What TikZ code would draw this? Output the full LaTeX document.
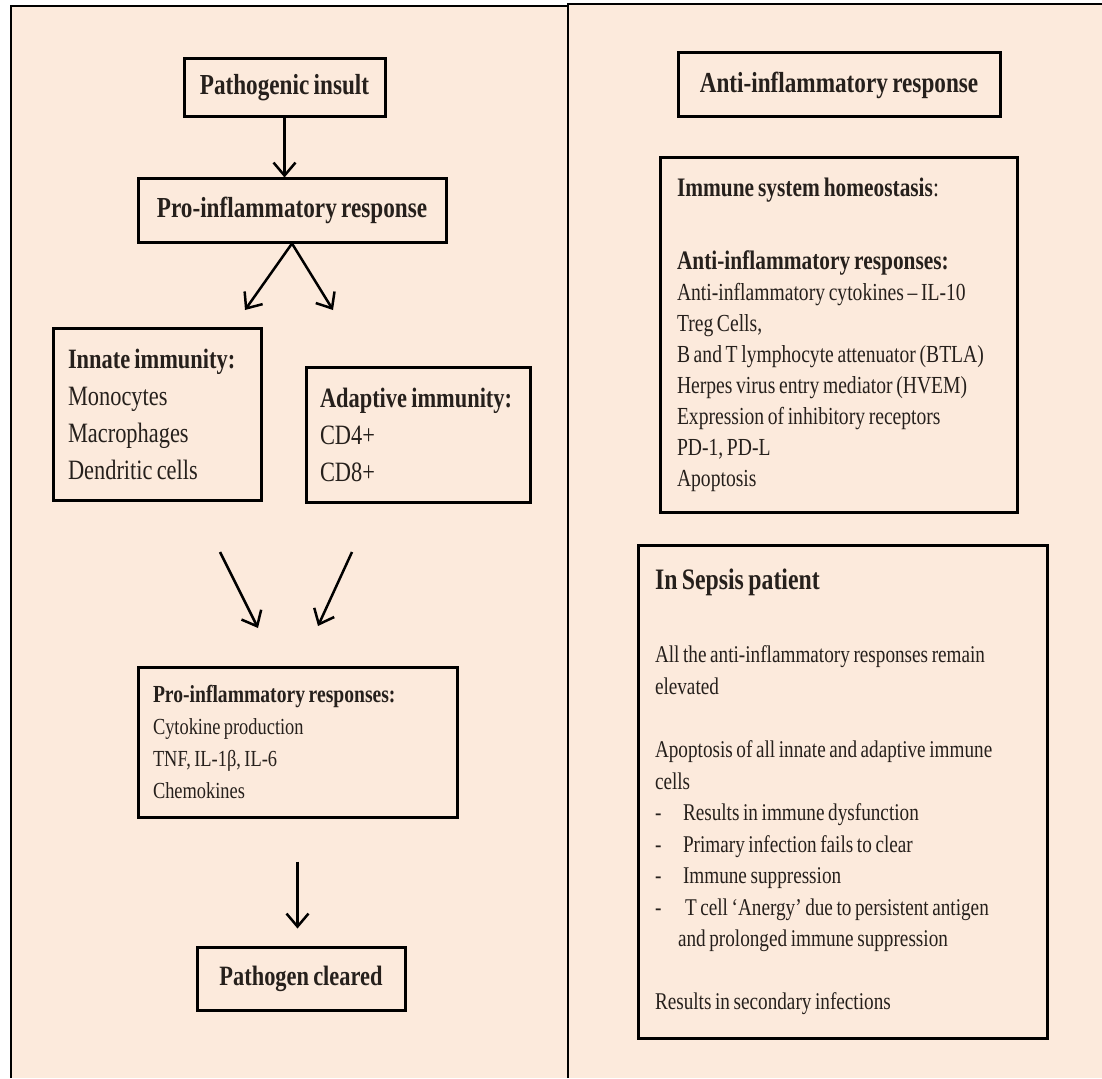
\documentclass[tikz,border=0pt]{standalone}
\usepackage{fontspec}
\setmainfont{Liberation Serif}[FakeStretch=0.8,WordSpace=0.75]
\usetikzlibrary{arrows.meta}
\definecolor{peach}{RGB}{252,234,220}
\definecolor{ink}{RGB}{38,32,28}
\hyphenpenalty=10000
\exhyphenpenalty=10000

\begin{document}
\begin{tikzpicture}[x=1pt,y=-1pt]
  \tikzstyle{headbox}=[draw=black,line width=3pt,fill=peach,inner sep=0pt,text=ink,font=\fontsize{29}{35}\selectfont\bfseries]
  \tikzstyle{listbox}=[draw=black,line width=3pt,fill=peach,inner sep=0pt,align=left,text=ink,
    execute at begin node={\spaceskip=0pt\xspaceskip=0pt}]
  \tikzstyle{arrow}=[draw,line width=2.5pt,-{Straight Barb[length=13pt,width=22pt]}]
  \tikzstyle{frame}=[draw,line width=1.8pt]
  \useasboundingbox (0,0) rectangle (1102,1078);
  \fill[peach] (11,6) rectangle (568,1078);
  \fill[peach] (568,4) rectangle (1102,1078);
  \draw[frame] (11,1078) -- (11,6) -- (568,6);
  \draw[frame] (568,1078) -- (568,4) -- (1102,4);
  \begin{scope}
    \node[headbox,minimum width=201pt,minimum height=58pt] (insult) at (284.5,88) {Pathogenic insult};
    \node[headbox,minimum width=308pt,minimum height=63pt] (pro) at (292,210.5) {Pro-inflammatory response};
    \node[listbox,minimum width=208pt,minimum height=172pt,text width=178pt,font=\fontsize{28}{37}\selectfont] (innate) at (157,414)
      {\textbf{Innate~immunity:}\\Monocytes\\Macrophages\\Dendritic cells};
    \node[listbox,minimum width=224pt,minimum height=135pt,text width=196pt,font=\fontsize{28}{37}\selectfont] (adaptive) at (418,434.5)
      {\textbf{Adaptive~immunity:}\\CD4+\\CD8+};
    \node[listbox,minimum width=319pt,minimum height=150pt,text width=289pt,font=\fontsize{23}{32}\selectfont] (proresp) at (297.5,742)
      {{\fontsize{24.5}{32}\selectfont\bfseries Pro-inflammatory~responses:}\\Cytokine production\\TNF, IL-1β, IL-6\\Chemokines};
    \node[headbox,minimum width=208pt,minimum height=63pt,font=\fontsize{28}{35}\selectfont\bfseries] (cleared) at (301,978.5) {Pathogen cleared};
    \coordinate (forkL) at (245,310);
    \coordinate (forkR) at (333,310);
    \coordinate (joinL) at (220,552);
    \coordinate (joinR) at (352,552);
    \coordinate (tipL) at (258,628);
    \coordinate (tipR) at (318,626);
    \draw[arrow] (insult.south) -- (insult.south |- pro.north);
    \draw[arrow] (pro.south) -- (forkL);
    \draw[arrow] (pro.south) -- (forkR);
    \draw[arrow] (joinL) -- (tipL);
    \draw[arrow] (joinR) -- (tipR);
    \draw[arrow,shorten <=43pt,shorten >=17pt] (proresp.south) -- (proresp.south |- cleared.north);
  \end{scope}
  \begin{scope}
    \node[headbox,minimum width=322pt,minimum height=64pt] (anti) at (839,85) {Anti-inflammatory response};
    \node[listbox,minimum width=357pt,minimum height=354pt,text width=323pt,font=\fontsize{24.5}{31}\selectfont] (homeo) at (838.5,335)
      {{\fontsize{26.7}{31}\selectfont\textbf{Immune system homeostasis}:}\\[42pt]
       {\fontsize{26.7}{31}\selectfont\bfseries Anti-inflammatory~responses:}\\
       Anti-inflammatory cytokines – IL-10\\
       Treg Cells,\\
       B and T lymphocyte attenuator (BTLA)\\
       Herpes virus entry mediator (HVEM)\\
       Expression of inhibitory receptors\\
       PD-1, PD-L\\
       Apoptosis};
    \node[listbox,minimum width=409pt,minimum height=493pt,text width=375pt,font=\fontsize{24}{31.5}\selectfont] (sepsis) at (842.5,791.5)
      {{\fontsize{29.7}{31}\selectfont\bfseries In Sepsis patient}\\[42pt]
       All the anti-inflammatory responses remain\\
       elevated\\[32pt]
       Apoptosis of all innate and adaptive immune\\
       cells\\
       \makebox[28pt][l]{-}Results in immune dysfunction\\
       \makebox[28pt][l]{-}Primary infection fails to clear\\
       \makebox[28pt][l]{-}Immune suppression\\
       \makebox[30pt][l]{-}T cell ‘Anergy’ due to persistent antigen\\
       \hspace*{23pt}and prolonged immune suppression\\[31pt]
       Results in secondary infections};
  \end{scope}
\end{tikzpicture}
\end{document}
